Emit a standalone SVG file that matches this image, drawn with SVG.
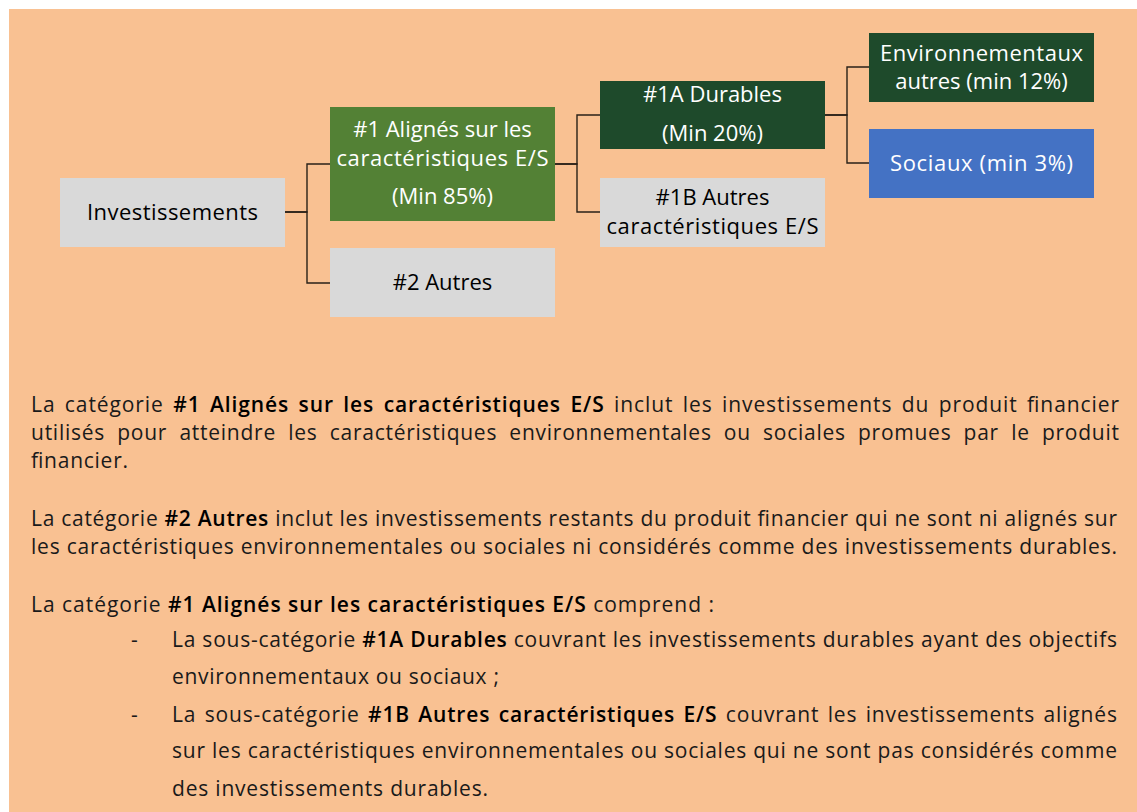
<svg xmlns="http://www.w3.org/2000/svg" width="1137" height="812" viewBox="0 0 1137 812">
<style>
.box-grey{fill:#D9D9D9}
.box-green{fill:#538135}
.box-dark{fill:#1E4A2B}
.box-blue{fill:#4472C4}
.lbl{font-family:"Open Sans","Liberation Sans",sans-serif;font-size:22px;text-anchor:middle}
.lbl-w{fill:#FFFFFF}
.lbl-k{fill:#000000}
.conn{fill:none;stroke:#2a2118;stroke-width:1.4}
.body{font-family:"Open Sans","Liberation Sans",sans-serif;font-size:21px;fill:#1a1a1a}
.b{font-weight:600;fill:#000}
</style>
<rect x="0" y="0" width="1137" height="812" fill="#FFFFFF"/>
<rect x="9" y="9" width="1128" height="803" fill="#F9C192"/>

<g id="connectors">
  <path class="conn" d="M285 212 H307 V164 H330"/>
  <path class="conn" d="M285 212 H307 V283 H330"/>
  <path class="conn" d="M555 164 H577 V115 H600"/>
  <path class="conn" d="M555 164 H577 V212 H600"/>
  <path class="conn" d="M825 115 H847 V67 H869"/>
  <path class="conn" d="M825 115 H847 V163 H869"/>
</g>

<g id="node-investissements">
  <rect class="box-grey" x="60" y="178" width="225" height="69"/>
  <text class="lbl lbl-k" x="172.5" y="220" textLength="171">Investissements</text>
</g>
<g id="node-1-alignes">
  <rect class="box-green" x="330" y="107" width="225" height="114"/>
  <text class="lbl lbl-w" x="442.5" y="137">#1 Alignés sur les</text>
  <text class="lbl lbl-w" x="442.5" y="166" textLength="212">caractéristiques E/S</text>
  <text class="lbl lbl-w" x="442.5" y="204">(Min 85%)</text>
</g>
<g id="node-2-autres">
  <rect class="box-grey" x="330" y="248" width="225" height="69"/>
  <text class="lbl lbl-k" x="442.5" y="290">#2 Autres</text>
</g>
<g id="node-1a-durables">
  <rect class="box-dark" x="600" y="81" width="225" height="68"/>
  <text class="lbl lbl-w" x="712.5" y="102">#1A Durables</text>
  <text class="lbl lbl-w" x="712.5" y="141">(Min 20%)</text>
</g>
<g id="node-1b-autres">
  <rect class="box-grey" x="600" y="178" width="225" height="69"/>
  <text class="lbl lbl-k" x="712.5" y="205">#1B Autres</text>
  <text class="lbl lbl-k" x="712.5" y="234" textLength="212">caractéristiques E/S</text>
</g>
<g id="node-environnementaux">
  <rect class="box-dark" x="869" y="33" width="225" height="69"/>
  <text class="lbl lbl-w" x="981.5" y="61" textLength="203">Environnementaux</text>
  <text class="lbl lbl-w" x="981.5" y="89">autres (min 12%)</text>
</g>
<g id="node-sociaux">
  <rect class="box-blue" x="869" y="129" width="225" height="69"/>
  <text class="lbl lbl-w" x="981.5" y="171" textLength="183">Sociaux (min 3%)</text>
</g>

<g id="description">
  <text class="body" x="31" y="412" textLength="1088" word-spacing="3">La catégorie <tspan class="b">#1 Alignés sur les caractéristiques E/S</tspan> inclut les investissements du produit financier</text>
  <text class="body" x="31" y="440" textLength="1088" word-spacing="6">utilisés pour atteindre les caractéristiques environnementales ou sociales promues par le produit</text>
  <text class="body" x="31" y="468" textLength="97">financier.</text>

  <text class="body" x="31" y="526" textLength="1086">La catégorie <tspan class="b">#2 Autres</tspan> inclut les investissements restants du produit financier qui ne sont ni alignés sur</text>
  <text class="body" x="31" y="554" textLength="1086">les caractéristiques environnementales ou sociales ni considérés comme des investissements durables.</text>

  <text class="body" x="31" y="612" textLength="683">La catégorie <tspan class="b">#1 Alignés sur les caractéristiques E/S</tspan> comprend :</text>

  <text class="body" x="131" y="647">-</text>
  <text class="body" x="172" y="647" textLength="945">La sous-catégorie <tspan class="b">#1A Durables</tspan> couvrant les investissements durables ayant des objectifs</text>
  <text class="body" x="172" y="684" textLength="327">environnementaux ou sociaux ;</text>
  <text class="body" x="131" y="722">-</text>
  <text class="body" x="172" y="722" textLength="945" word-spacing="2">La sous-catégorie <tspan class="b">#1B Autres caractéristiques E/S</tspan> couvrant les investissements alignés</text>
  <text class="body" x="172" y="758" textLength="945">sur les caractéristiques environnementales ou sociales qui ne sont pas considérés comme</text>
  <text class="body" x="172" y="796" textLength="316">des investissements durables.</text>
</g>
</svg>
